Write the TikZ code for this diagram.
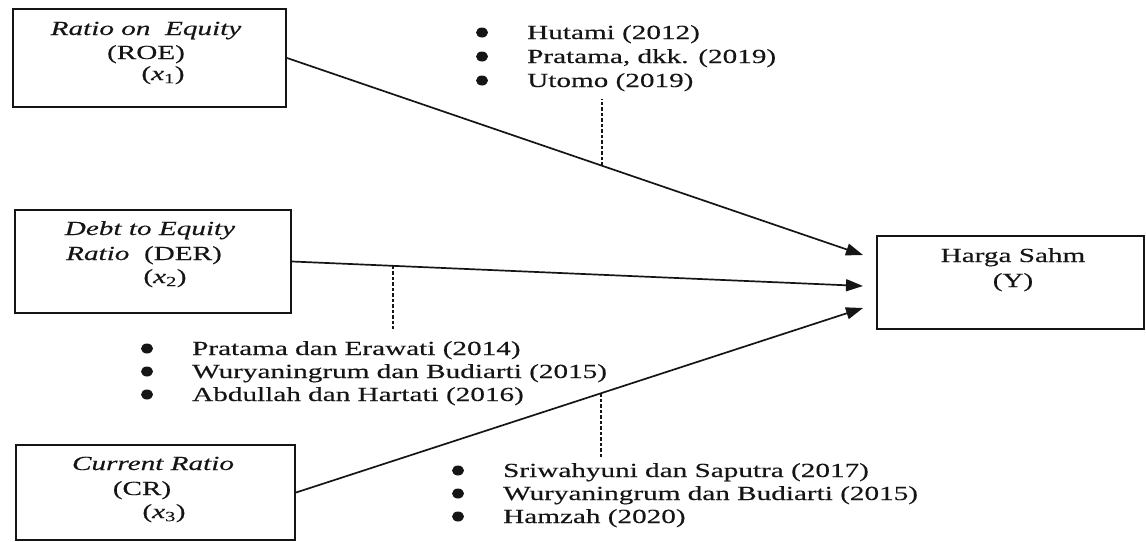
\documentclass[tikz,border=0pt]{standalone}
\usepackage{fontspec}
\setmainfont[FakeStretch=1.46,FakeBold=0.35]{Liberation Serif}
\usetikzlibrary{arrows.meta,calc}
\definecolor{ink}{HTML}{151515}
\tikzset{
  varbox/.style={draw=ink,line width=2.1pt,rectangle,inner sep=0pt},
  txt/.style={inner sep=0pt,anchor=base,text=ink,font=\fontsize{20}{24}\selectfont},
  lst/.style={inner sep=0pt,anchor=base west,text=ink,font=\fontsize{20}{24}\selectfont},
  link/.style={draw=ink,line width=1.7pt,-{Triangle[length=17pt,width=12pt]}},
  refline/.style={draw=ink,line width=2pt,dash pattern=on 3.5pt off 2pt},
  dot/.style={fill=ink}
}
\newcommand{\bul}[1]{\fill[dot] ($(#1.base west)+(-45,-6.5)$) ellipse (6pt and 5pt);}
\begin{document}
\begin{tikzpicture}[x=1pt,y=-1pt]
\useasboundingbox (0,0) rectangle (1146,541);
\clip (0,0) rectangle (1146,541);
% boxes
\node[varbox,minimum width=273pt,minimum height=98pt] (r1) at (149.5,58) {};
\node[varbox,minimum width=276pt,minimum height=103pt] (r2) at (153,261.5) {};
\node[varbox,minimum width=279pt,minimum height=95pt] (r3) at (155.5,492.5) {};
\node[varbox,minimum width=267pt,minimum height=93pt] (y) at (1010.5,282.5) {};
% box texts
\node[txt] (t1a) at (146,35) {\textit{Ratio on\ \ Equity}};
\node[txt] (t1b) at (146,59) {(ROE)};
\node[txt] (t1c) at (163,80) {(\textit{x}\textsubscript{1})};
\node[txt] (t2a) at (150,235) {\textit{Debt to Equity}};
\node[txt] (t2b) at (144,260) {\textit{Ratio}\ \ (DER)};
\node[txt] (t2c) at (165,283) {(\textit{x}\textsubscript{2})};
\node[txt] (t3a) at (153,470) {\textit{Current Ratio}};
\node[txt] (t3b) at (142,495) {(CR)};
\node[txt] (t3c) at (164,518) {(\textit{x}\textsubscript{3})};
\node[txt] (ya) at (1013,262) {Harga Sahm};
\node[txt] (yb) at (1013,287) {(Y)};
% arrow end points
\coordinate (e1) at (863,255);
\coordinate (e2) at (863,286);
\coordinate (e3) at (863,308);
\draw[link] (r1.east) -- (e1) coordinate[pos=0.546] (d1);
\draw[link] (r2.east) -- (e2) coordinate[pos=0.177] (d2);
\draw[link] (r3.east) -- (e3) coordinate[pos=0.537] (d3);
% reference lists
\node[lst] (l1a) at (527,39) {Hutami (2012)};
\node[lst] (l1b) at (527,63) {Pratama, dkk. (2019)};
\node[lst] (l1c) at (527,87) {Utomo (2019)};
\node[lst] (l2a) at (192,355) {Pratama dan Erawati (2014)};
\node[lst] (l2b) at (192,378) {Wuryaningrum dan Budiarti (2015)};
\node[lst] (l2c) at (192,401) {Abdullah dan Hartati (2016)};
\node[lst] (l3a) at (503,477) {Sriwahyuni dan Saputra (2017)};
\node[lst] (l3b) at (503,500) {Wuryaningrum dan Budiarti (2015)};
\node[lst] (l3c) at (503,523) {Hamzah (2020)};
\foreach \n in {l1a,l1b,l1c,l2a,l2b,l2c,l3a,l3b,l3c} {\bul{\n}}
% dashed links
\coordinate (c1) at ($(d1)+(0,-67)$);
\coordinate (c2) at ($(d2)+(0,63)$);
\coordinate (c3) at ($(d3)+(0,64)$);
\draw[refline] (d1) -- (c1);
\draw[refline] (d2) -- (c2);
\draw[refline] (d3) -- (c3);
\end{tikzpicture}
\end{document}
